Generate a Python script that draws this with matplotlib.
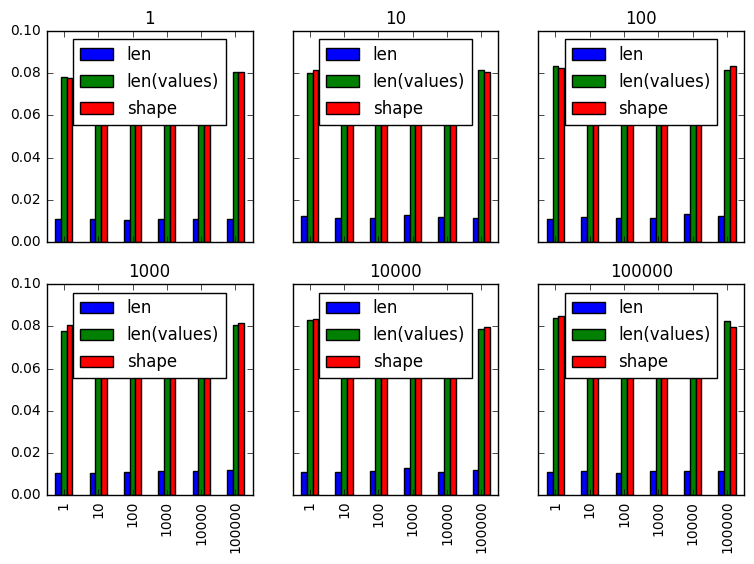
import matplotlib
matplotlib.use("Agg")
import matplotlib.pyplot as plt
import numpy as np

plt.style.use("classic")
plt.rcParams["font.size"] = 10

sizes = ["1", "10", "100", "1000", "10000", "100000"]
series = ["len", "len(values)", "shape"]
colors = ["b", "g", "r"]

# timings per panel (title = frame length), one list per method, one value per tick
len_1 = [0.0107, 0.0107, 0.0102, 0.0111, 0.0111, 0.0111]
values_1 = [0.0782, 0.0790, 0.0788, 0.0795, 0.0792, 0.0804]
shape_1 = [0.0776, 0.0788, 0.0790, 0.0792, 0.0795, 0.0804]

len_10 = [0.0122, 0.0113, 0.0113, 0.0127, 0.0118, 0.0113]
values_10 = [0.0800, 0.0805, 0.0800, 0.0808, 0.0802, 0.0814]
shape_10 = [0.0814, 0.0808, 0.0803, 0.0810, 0.0805, 0.0806]

len_100 = [0.0110, 0.0120, 0.0113, 0.0113, 0.0132, 0.0122]
values_100 = [0.0833, 0.0820, 0.0815, 0.0818, 0.0820, 0.0814]
shape_100 = [0.0823, 0.0818, 0.0820, 0.0815, 0.0822, 0.0833]

len_1000 = [0.0106, 0.0106, 0.0110, 0.0115, 0.0115, 0.0118]
values_1000 = [0.0777, 0.0795, 0.0800, 0.0798, 0.0802, 0.0809]
shape_1000 = [0.0809, 0.0800, 0.0805, 0.0802, 0.0806, 0.0815]

len_10000 = [0.0109, 0.0109, 0.0114, 0.0128, 0.0109, 0.0118]
values_10000 = [0.0829, 0.0815, 0.0812, 0.0818, 0.0810, 0.0790]
shape_10000 = [0.0837, 0.0820, 0.0815, 0.0820, 0.0812, 0.0799]

len_100000 = [0.0109, 0.0114, 0.0104, 0.0114, 0.0114, 0.0114]
values_100000 = [0.0839, 0.0825, 0.0820, 0.0822, 0.0818, 0.0825]
shape_100000 = [0.0847, 0.0828, 0.0822, 0.0825, 0.0820, 0.0799]

panels = [
    ("1", [len_1, values_1, shape_1]),
    ("10", [len_10, values_10, shape_10]),
    ("100", [len_100, values_100, shape_100]),
    ("1000", [len_1000, values_1000, shape_1000]),
    ("10000", [len_10000, values_10000, shape_10000]),
    ("100000", [len_100000, values_100000, shape_100000]),
]

fig, axes = plt.subplots(2, 3, sharex=True, sharey=True, figsize=(7.54, 5.64), dpi=100)
fig.patch.set_facecolor("white")

x = np.arange(len(sizes))
w = 0.5 / len(series)

for ax, (title, data) in zip(axes.flat, panels):
    for i, vals in enumerate(data):
        ax.bar(x + (i - 1) * w, vals, width=w, color=colors[i],
               edgecolor="black", label=series[i], align="center")
    ax.set_title(title)
    ax.legend(loc="upper center", labelspacing=0.54)
    ax.set_xlim(-0.5, len(sizes) - 0.5)
    ax.set_ylim(0, 0.1)

for ax in axes[1]:
    ax.set_xticks(x)
    ax.set_xticklabels(sizes, rotation=90)

plt.subplots_adjust(left=0.062, right=0.987, top=0.945, bottom=0.122,
                    wspace=0.194, hspace=0.2)
plt.savefig("out.png", facecolor="white")
